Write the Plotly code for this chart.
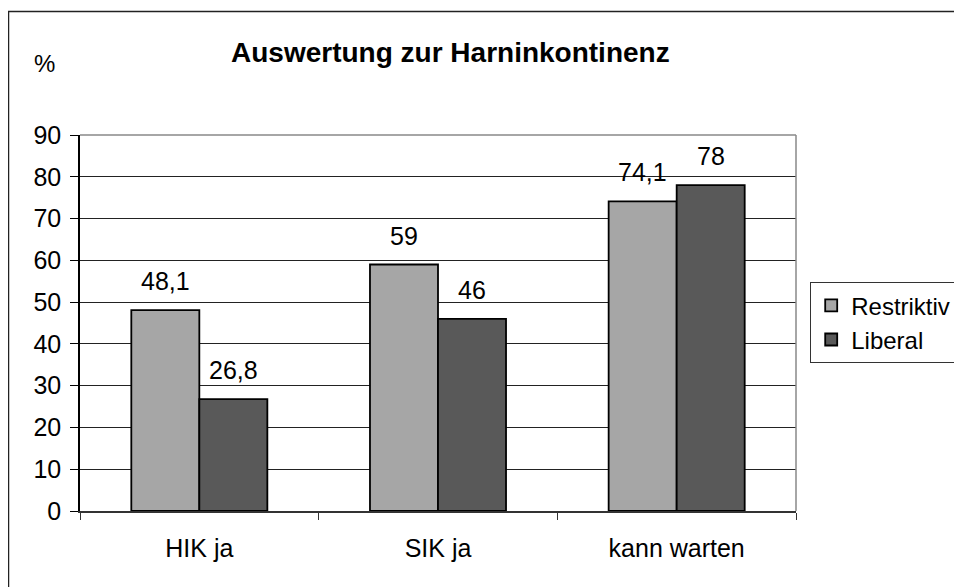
import plotly.graph_objects as go

categories = ["HIK ja", "SIK ja", "kann warten"]
restriktiv = [48.1, 59, 74.1]
liberal = [26.8, 46, 78]
series_names = ["Restriktiv", "Liberal"]
y_ticks = [0, 10, 20, 30, 40, 50, 60, 70, 80, 90]
title_text = "Auswertung zur Harninkontinenz"

FONT = "Liberation Sans, Arial, sans-serif"
OFF = 8  # page body margin
W, H = 962 - OFF, 587 - OFF
# plot area in screen pixels: x 80..796, y 135..511
SX0, SX1, SY0, SY1 = 80, 796, 135, 511
L, T = SX0 - OFF, SY0 - OFF
R, B = W - (SX1 - OFF), H - (SY1 - OFF)
pw, ph = SX1 - SX0, SY1 - SY0

def px_x(p):
    return (p - SX0) / pw

def px_y(p):
    return (SY1 - p) / ph

fig = go.Figure()
fig.add_trace(go.Bar(name=series_names[0], x=categories, y=restriktiv,
                     marker=dict(color="#a6a6a6", line=dict(color="#000000", width=1.8)),
                     legendgroup="a"))
fig.add_trace(go.Bar(name=series_names[1], x=categories, y=liberal,
                     marker=dict(color="#595959", line=dict(color="#000000", width=1.8)),
                     legendgroup="b"))

annotations = []
for vals, shift in ((restriktiv, -34), (liberal, 34)):
    for c, v in zip(categories, vals):
        annotations.append(dict(x=c, y=v, xref="x", yref="y", xshift=shift, yshift=13,
                                yanchor="bottom", showarrow=False,
                                text=f"{v:g}".replace(".", ","),
                                font=dict(family=FONT, size=25, color="#000000")))
annotations.append(dict(x=px_x(44), y=px_y(63), xref="paper", yref="paper", showarrow=False,
                        text="%", xanchor="center", yanchor="middle",
                        font=dict(family=FONT, size=24, color="#000000")))
annotations.append(dict(x=px_x(450), y=px_y(52), xref="paper", yref="paper", showarrow=False,
                        text="<b>" + title_text + "</b>", xanchor="center", yanchor="middle",
                        font=dict(family=FONT, size=28, color="#000000")))

shapes = [
    dict(type="rect", xref="paper", yref="paper", x0=px_x(8.5), x1=px_x(1000), y0=px_y(620),
         y1=px_y(11.5), line=dict(color="#222222", width=1.5), layer="below"),
    dict(type="line", xref="paper", yref="paper", x0=0, x1=1, y0=1, y1=1,
         line=dict(color="#888888", width=1.5)),
    dict(type="line", xref="paper", yref="paper", x0=1, x1=1, y0=0, y1=1,
         line=dict(color="#888888", width=1.5)),
]

fig.update_layout(
    width=W, height=H,
    margin=dict(l=L, r=R, t=T, b=B, pad=0, autoexpand=False),
    paper_bgcolor="white", plot_bgcolor="white",
    barmode="group", bargap=0.43, bargroupgap=0,
    separators=",.",
    font=dict(family=FONT, size=25, color="#000000"),
    showlegend=True,
    legend=dict(x=px_x(810), y=px_y(282), xanchor="left", yanchor="top",
                bgcolor="white", bordercolor="#333333", borderwidth=1.2,
                font=dict(family=FONT, size=24, color="#000000"),
                tracegroupgap=12, traceorder="normal"),
    xaxis=dict(type="category", showline=True, linecolor="#333333", linewidth=1.5,
               ticks="outside", tickson="boundaries", ticklen=7, tickcolor="#333333",
               tickwidth=1.2, showgrid=False, ticklabelstandoff=14, automargin=False,
               tickfont=dict(family=FONT, size=25, color="#000000")),
    yaxis=dict(range=[0, 90], tickvals=y_ticks, showline=True, linecolor="#000000",
               linewidth=1.5, ticks="outside", ticklen=8, tickcolor="#000000", tickwidth=1.2,
               showgrid=True, gridcolor="#222222", gridwidth=1, zeroline=False,
               ticklabelstandoff=4, automargin=False,
               tickfont=dict(family=FONT, size=25, color="#000000")),
    annotations=annotations,
    shapes=shapes,
)

fig.write_html("out.html")
